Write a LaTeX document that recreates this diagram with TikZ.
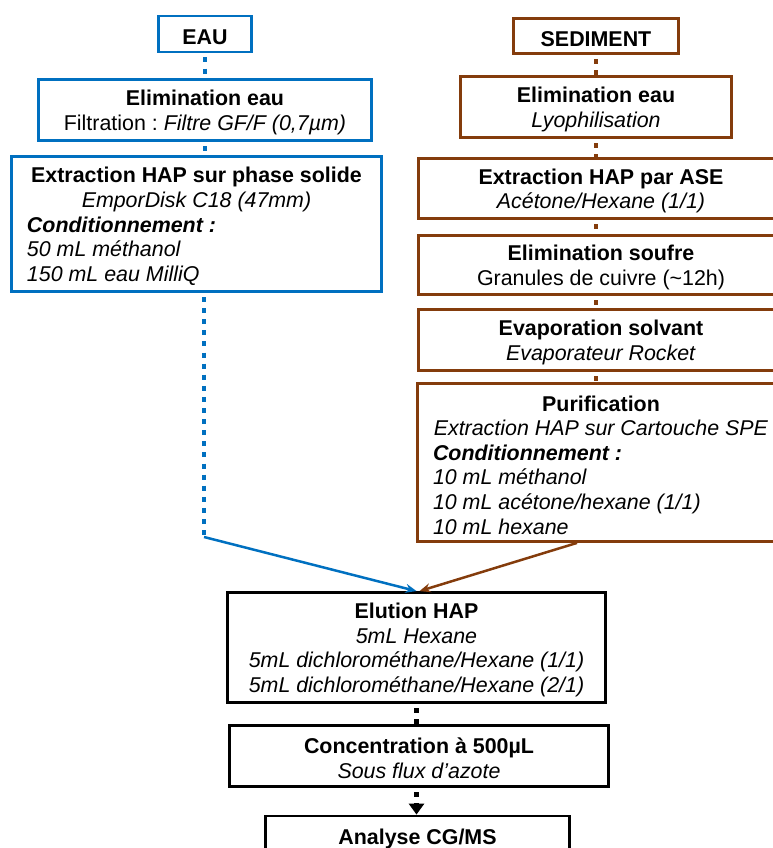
\documentclass[tikz,border=0pt]{standalone}
\usepackage{fontspec}
\setmainfont{Liberation Sans}
\usetikzlibrary{arrows.meta}
\definecolor{eaublue}{HTML}{0070C0}
\definecolor{sedbrown}{HTML}{843C0C}
\newcommand{\ctrline}[1]{\makebox[\hsize][c]{#1}}
\begin{document}
\begin{tikzpicture}[x=1pt,y=-1pt,
    box/.style={draw,line width=2.8pt,fill=white,inner xsep=15.5pt,inner ysep=0pt,align=flush center,font=\fontsize{21.4}{24.6}\selectfont\frenchspacing,
        execute at begin node=\rule{0pt}{20.4pt}},
    boxE/.style={box,draw=eaublue},
    boxS/.style={box,draw=sedbrown},
    boxN/.style={box,draw=black},
    dots/.style={line width=4.5pt,dash pattern=on 5pt off 6.1pt,dash phase=7pt},
    flow/.style={line width=2.5pt,-{Stealth[length=11pt,width=9pt]}}]
    \clip (0,0) rectangle (773,848);
    % eau
    \node[boxE,text width=62pt,minimum height=36pt] (eau) at (205,34) {\textbf{EAU}};
    \node[boxE,text width=302pt,minimum height=61pt] (elimE) at (205,110) {\textbf{Elimination eau}\\Filtration : \textit{Filtre GF/F (0,7µm)}};
    \node[boxE,text width=339pt,align=flush left,minimum height=135pt] (extE) at (196.5,224) {\ctrline{\textbf{Extraction HAP sur phase solide}}\\
        \ctrline{\textit{EmporDisk C18 (47mm)}}\\
        \textbf{\textit{Conditionnement :}}\\
        \textit{50 mL méthanol}\\
        \textit{150 mL eau MilliQ}};
    % sediment
    \node[boxS,text width=134pt,minimum height=35pt] (sed) at (596,36) {\textbf{SEDIMENT}};
    \node[boxS,text width=240pt,minimum height=61pt] (elimS) at (596,107) {\textbf{Elimination eau}\\\textit{Lyophilisation}};
    \node[boxS,text width=334pt,minimum height=60pt] (ase) at (601,188.5) {\textbf{Extraction HAP par ASE}\\\textit{Acétone/Hexane (1/1)}};
    \node[boxS,text width=334pt,minimum height=59pt] (souf) at (601,265) {\textbf{Elimination soufre}\\Granules de cuivre (\textasciitilde12h)};
    \node[boxS,text width=334pt,minimum height=61pt] (evap) at (601,340) {\textbf{Evaporation solvant}\\\textit{Evaporateur Rocket}};
    \node[boxS,text width=336pt,align=flush left,minimum height=158pt] (puri) at (601,462.5) {\ctrline{\textbf{Purification}}\\
        \ctrline{\textit{Extraction HAP sur Cartouche SPE}}\\
        \textbf{\textit{Conditionnement :}}\\
        \textit{10 mL méthanol}\\
        \textit{10 mL acétone/hexane (1/1)}\\
        \textit{10 mL hexane}};
    % commun
    \node[boxN,text width=347pt,minimum height=110pt] (elu) at (416.5,647.5) {\textbf{Elution HAP}\\
        \textit{5mL Hexane}\\
        \textit{5mL dichlorométhane/Hexane (1/1)}\\
        \textit{5mL dichlorométhane/Hexane (2/1)}};
    \node[boxN,text width=348pt,minimum height=61pt] (conc) at (419,756) {\textbf{Concentration à 500µL}\\\textit{Sous flux d’azote}};
    \node[boxN,text width=273pt,minimum height=42pt] (ana) at (417.5,837) {\textbf{Analyse CG/MS}};
    % liens
    \coordinate (bendE) at (204,537);
    \draw[eaublue,dots] (eau.south) -- (elimE.north);
    \draw[eaublue,dots] (elimE.south) -- (elimE.south |- extE.north);
    \draw[eaublue,dots] (extE.south -| bendE) -- (bendE);
    \draw[eaublue,flow] (bendE) -- (elu.north);
    \draw[sedbrown,dots] (sed.south) -- (elimS.north);
    \draw[sedbrown,dots] (elimS.south) -- (elimS.south |- ase.north);
    \draw[sedbrown,dots] (ase.south -| elimS) -- (souf.north -| elimS);
    \draw[sedbrown,dots] (souf.south -| elimS) -- (evap.north -| elimS);
    \draw[sedbrown,dots] (evap.south -| elimS) -- (puri.north -| elimS);
    \draw[sedbrown,flow] ([xshift=-24pt]puri.south) -- ([xshift=3pt]elu.north);
    \draw[dots] (elu.south) -- (elu.south |- conc.north);
    \draw[dots,-{Triangle[length=11pt,width=15pt]}] (conc.south -| elu) -- (ana.north -| elu);
\end{tikzpicture}
\end{document}
